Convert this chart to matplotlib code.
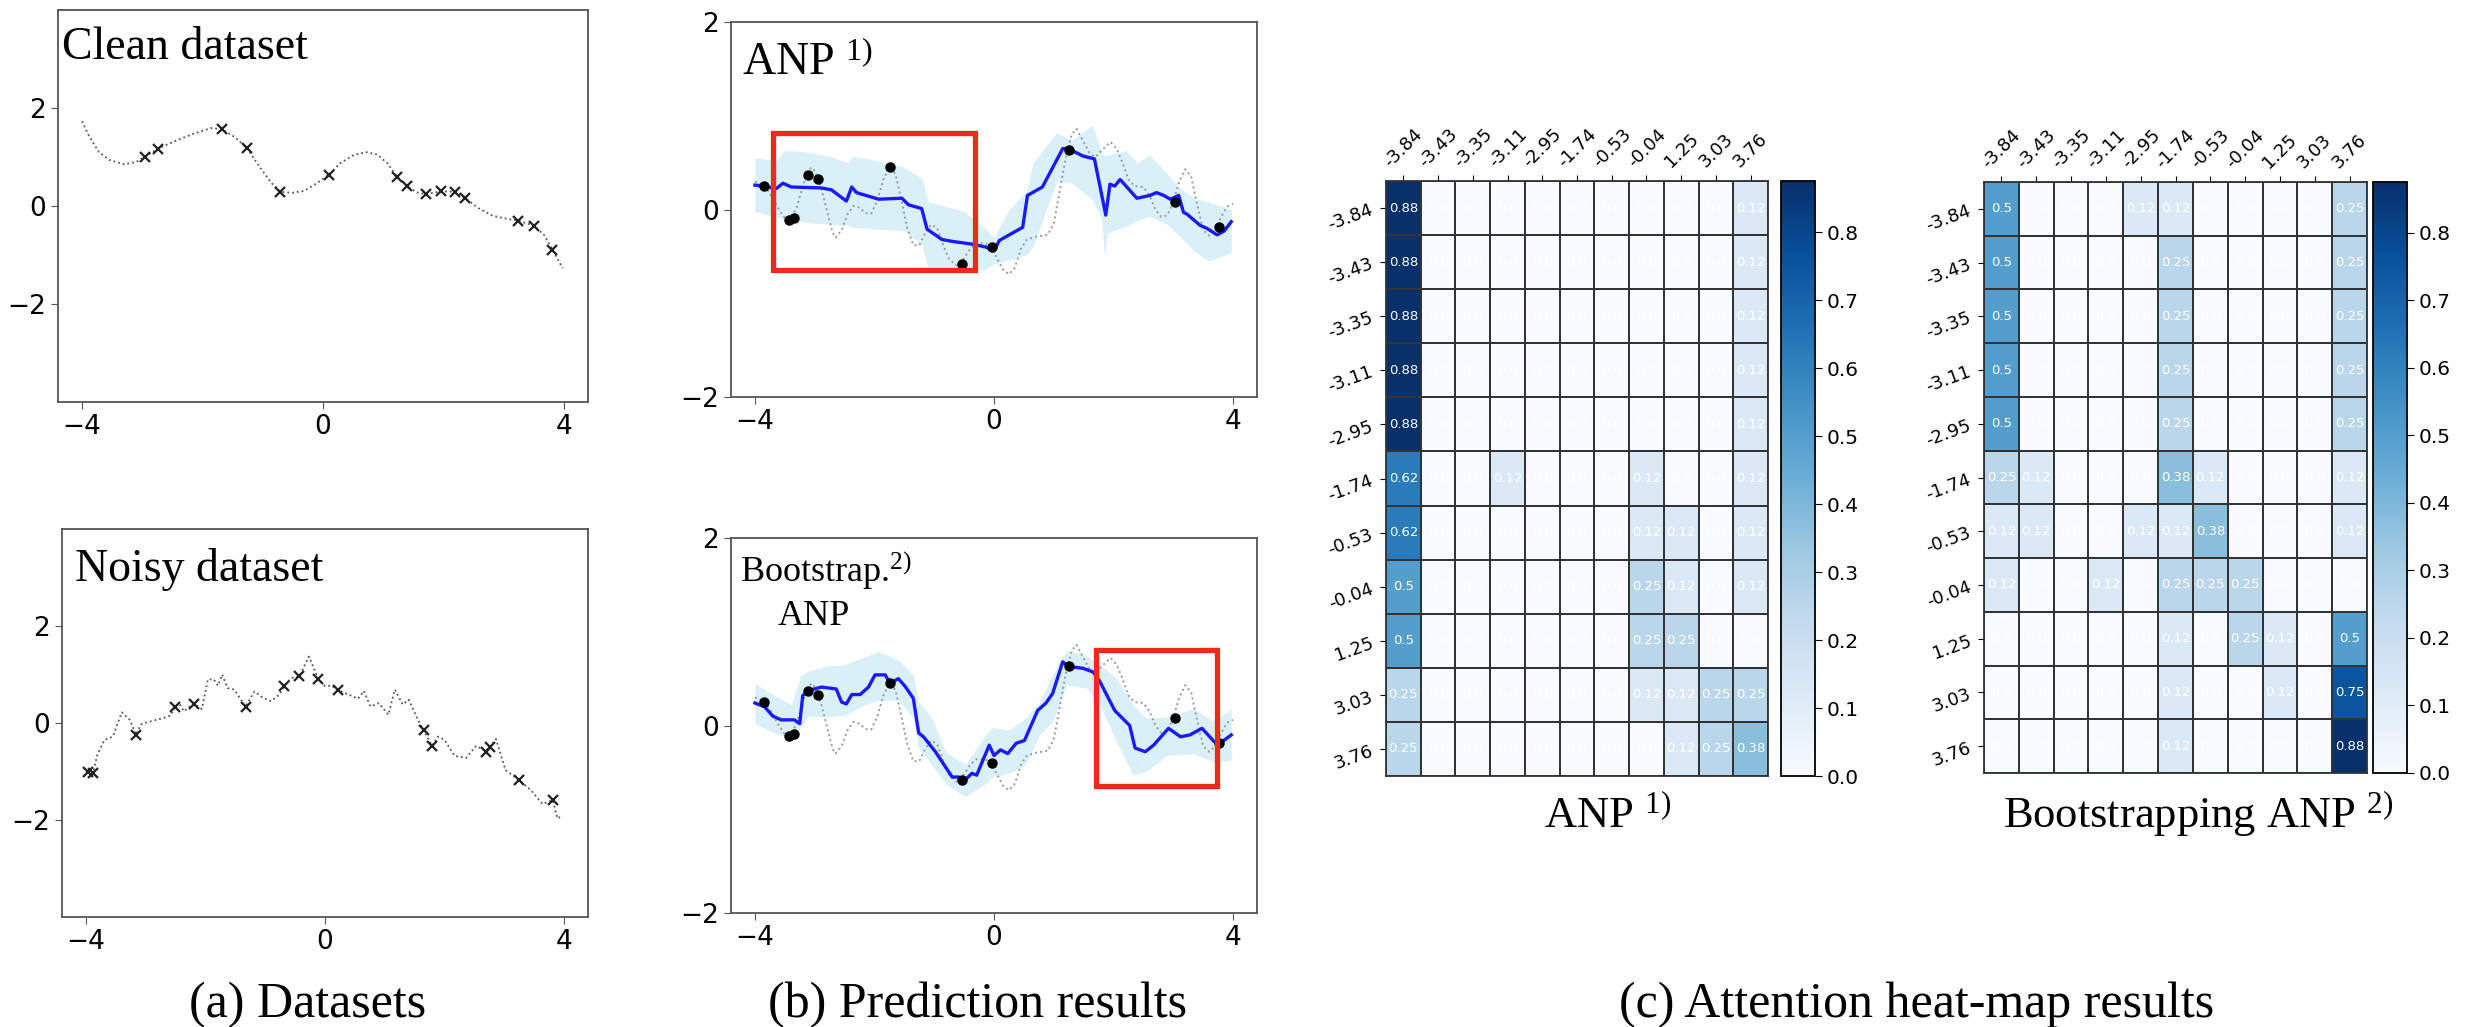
import numpy as np
import matplotlib.pyplot as plt
from matplotlib.patches import Rectangle

plt.rcParams['mathtext.fontset'] = 'custom'
plt.rcParams['mathtext.rm'] = 'Liberation Serif'
plt.rcParams['mathtext.it'] = 'Liberation Serif:italic'
SERIF = 'Liberation Serif'

# ---------------- (a) datasets ----------------
clean_x = [-4.0, -3.89, -3.72, -3.55, -3.30, -3.10, -2.96, -2.74, -2.43, -2.14,
           -1.86, -1.68, -1.47, -1.27, -1.07, -0.87, -0.71, -0.51, -0.31, -0.11,
           0.10, 0.28, 0.51, 0.71, 0.90, 1.07, 1.23, 1.39, 1.55, 1.71,
           1.96, 2.19, 2.35, 2.59, 2.82, 3.05, 3.24, 3.50, 3.67, 3.81, 3.98]
clean_y = [1.73, 1.44, 1.10, 0.94, 0.85, 0.90, 1.00, 1.17, 1.34, 1.48,
           1.59, 1.57, 1.41, 1.19, 0.83, 0.49, 0.29, 0.27, 0.31, 0.46,
           0.64, 0.87, 1.04, 1.10, 1.05, 0.87, 0.60, 0.41, 0.28, 0.24,
           0.30, 0.29, 0.17, -0.05, -0.20, -0.26, -0.30, -0.40, -0.59, -0.89, -1.27]
clean_ctx_x = [-2.96, -2.74, -1.68, -1.27, -0.71, 0.10, 1.23, 1.39, 1.71, 1.96, 2.19, 2.35, 3.24, 3.50, 3.81]
clean_ctx_y = [1.00, 1.17, 1.57, 1.19, 0.29, 0.64, 0.60, 0.41, 0.24, 0.30, 0.29, 0.17, -0.30, -0.40, -0.89]

noisy_x = [-3.99, -3.88, -3.81, -3.69, -3.55, -3.40, -3.27, -3.16, -3.08, -2.93,
           -2.71, -2.59, -2.51, -2.44, -2.36, -2.20, -2.06, -1.96, -1.86, -1.79,
           -1.72, -1.63, -1.52, -1.33, -1.18, -1.04, -0.90, -0.76, -0.68, -0.56,
           -0.43, -0.27, -0.11, 0.0, 0.11, 0.21, 0.39, 0.55, 0.65, 0.76,
           0.90, 1.06, 1.17, 1.30, 1.40, 1.55, 1.65, 1.79, 1.89, 2.00,
           2.17, 2.36, 2.53, 2.70, 2.76, 2.86, 3.02, 3.24, 3.44, 3.64,
           3.81, 3.89, 3.95]
noisy_y = [-1.00, -1.03, -0.66, -0.35, -0.28, 0.22, 0.07, -0.24, -0.03, 0.03,
           0.10, 0.15, 0.32, 0.41, 0.24, 0.40, 0.29, 0.90, 0.90, 0.77,
           1.00, 0.72, 0.69, 0.34, 0.65, 0.52, 0.45, 0.59, 0.77, 0.93,
           0.96, 1.37, 0.91, 0.76, 0.77, 0.68, 0.59, 0.50, 0.66, 0.34,
           0.41, 0.17, 0.69, 0.38, 0.48, 0.08, -0.15, -0.47, -0.28, -0.35,
           -0.68, -0.72, -0.47, -0.59, -0.50, -0.33, -0.97, -1.17, -1.38, -1.67,
           -1.59, -1.97, -1.92]
noisy_ctx_x = [-3.96, -3.88, -3.16, -2.51, -2.20, -1.33, -0.68, -0.43, -0.11, 0.21, 1.65, 1.79, 2.70, 2.76, 3.24, 3.81]
noisy_ctx_y = [-1.00, -1.03, -0.24, 0.32, 0.40, 0.34, 0.77, 0.96, 0.91, 0.68, -0.15, -0.47, -0.59, -0.50, -1.17, -1.59]

# ---------------- (b) predictions ----------------
true_x = [-4.0, -3.9, -3.8, -3.7, -3.6, -3.5, -3.4, -3.3, -3.2, -3.1,
          -3.05, -3.0, -2.9, -2.8, -2.7, -2.65, -2.55, -2.45, -2.35, -2.25,
          -2.15, -2.05, -1.95, -1.85, -1.75, -1.65, -1.55, -1.45, -1.35, -1.25,
          -1.15, -1.05, -0.95, -0.85, -0.75, -0.62, -0.5, -0.4, -0.3, -0.15,
          -0.05, 0.05, 0.15, 0.25, 0.35, 0.45, 0.55, 0.7, 0.9, 1.0,
          1.1, 1.2, 1.3, 1.38, 1.5, 1.6, 1.7, 1.8, 1.95, 2.05,
          2.15, 2.25, 2.35, 2.5, 2.6, 2.7, 2.8, 2.9, 3.0, 3.1,
          3.2, 3.3, 3.4, 3.5, 3.6, 3.7, 3.8, 3.9, 4.0]
true_y = [0.30, 0.27, 0.22, 0.12, 0.0, -0.09, -0.10, 0.02, 0.25, 0.42,
          0.45, 0.41, 0.25, 0.0, -0.25, -0.30, -0.22, -0.05, 0.04, 0.02,
          -0.04, -0.04, 0.10, 0.32, 0.45, 0.38, 0.10, -0.20, -0.38, -0.38,
          -0.25, -0.16, -0.20, -0.38, -0.53, -0.60, -0.52, -0.42, -0.36, -0.36,
          -0.40, -0.52, -0.64, -0.69, -0.62, -0.42, -0.32, -0.29, -0.27, -0.15,
          0.20, 0.55, 0.80, 0.86, 0.72, 0.60, 0.56, 0.63, 0.72, 0.65,
          0.50, 0.32, 0.25, 0.24, 0.15, 0.0, -0.08, -0.06, 0.08, 0.30,
          0.43, 0.35, 0.05, -0.22, -0.28, -0.22, -0.08, 0.03, 0.06]

ctx_x = [-3.84, -3.43, -3.35, -3.11, -2.95, -1.74, -0.53, -0.04, 1.25, 3.03, 3.76]
ctx_y = [0.25, -0.11, -0.09, 0.37, 0.33, 0.45, -0.58, -0.40, 0.63, 0.08, -0.19]

anp_x = [-4.0, -3.84, -3.65, -3.53, -3.39, -2.89, -2.72, -2.47, -2.38, -2.30,
         -1.93, -1.54, -1.43, -1.21, -1.12, -0.87, -0.70, -0.36, -0.14, 0.0,
         0.09, 0.48, 0.56, 0.81, 1.15, 1.24, 1.49, 1.68, 1.87, 1.94,
         2.02, 2.11, 2.39, 2.61, 2.72, 2.84, 2.95, 3.09, 3.17, 3.23,
         3.45, 3.56, 3.73, 3.85, 3.97]
anp_y = [0.26, 0.25, 0.22, 0.28, 0.24, 0.23, 0.21, 0.09, 0.24, 0.18,
         0.11, 0.12, 0.05, 0.01, -0.21, -0.32, -0.34, -0.37, -0.40, -0.44,
         -0.33, -0.19, 0.15, 0.24, 0.65, 0.65, 0.57, 0.54, -0.06, 0.27,
         0.25, 0.32, 0.12, 0.15, 0.18, 0.15, 0.11, 0.15, -0.03, -0.05,
         -0.17, -0.20, -0.27, -0.23, -0.13]
anp_band_x = [-4.0, -3.65, -3.5, -3.1, -2.7, -2.45, -2.35, -1.95, -1.5, -1.2,
              -1.1, -0.5, -0.15, 0.0, 0.25, 0.55, 0.65, 1.05, 1.3, 1.65,
              1.8, 1.85, 1.9, 2.2, 2.4, 2.6, 2.9, 3.1, 3.35, 3.6, 3.97]
anp_hi = [0.55, 0.52, 0.63, 0.61, 0.56, 0.50, 0.57, 0.52, 0.45, 0.33,
          0.08, -0.02, -0.20, -0.30, 0.0, 0.20, 0.50, 0.82, 0.74, 0.90,
          0.60, 0.58, 0.58, 0.63, 0.50, 0.58, 0.38, 0.24, 0.12, 0.08, 0.0]
anp_lo = [-0.02, -0.08, -0.10, -0.14, -0.16, -0.17, -0.19, -0.21, -0.23, -0.38,
          -0.64, -0.67, -0.64, -0.58, -0.54, -0.48, -0.40, 0.30, 0.28, 0.10,
          -0.10, -0.50, -0.25, -0.18, -0.12, -0.07, -0.16, -0.28, -0.45, -0.55, -0.46]

bs_x = [-4.0, -3.84, -3.70, -3.56, -3.34, -3.25, -3.20, -3.06, -2.89, -2.64,
        -2.55, -2.47, -2.38, -2.24, -2.10, -1.99, -1.82, -1.74, -1.60, -1.49,
        -1.35, -1.26, -1.18, -0.98, -0.70, -0.59, -0.48, -0.37, -0.29, -0.08,
        0.0, 0.11, 0.23, 0.37, 0.51, 0.73, 0.87, 0.98, 1.15, 1.24,
        1.49, 1.66, 1.77, 2.02, 2.27, 2.36, 2.53, 2.67, 2.92, 3.12,
        3.28, 3.48, 3.68, 3.76, 3.97]
bs_y = [0.24, 0.20, 0.10, 0.06, 0.06, 0.02, 0.32, 0.38, 0.41, 0.39,
        0.25, 0.23, 0.33, 0.33, 0.41, 0.54, 0.54, 0.45, 0.50, 0.42,
        0.29, -0.08, -0.12, -0.28, -0.55, -0.55, -0.58, -0.51, -0.53, -0.21,
        -0.32, -0.26, -0.30, -0.19, -0.16, 0.16, 0.24, 0.34, 0.68, 0.63,
        0.61, 0.57, 0.47, 0.16, 0.0, -0.24, -0.28, -0.21, -0.03, -0.12,
        -0.10, -0.03, -0.17, -0.20, -0.10]
bs_band_x = [-4.0, -3.67, -3.39, -3.23, -3.1, -2.83, -2.50, -2.16, -1.93, -1.60,
             -1.35, -1.26, -1.04, -0.81, -0.48, -0.14, -0.03, 0.25, 0.53, 0.76,
             0.98, 1.21, 1.54, 1.77, 2.05, 2.33, 2.55, 2.89, 3.34, 3.68, 3.97]
bs_hi = [0.45, 0.32, 0.22, 0.54, 0.58, 0.63, 0.65, 0.73, 0.79, 0.70,
         0.54, 0.25, 0.08, -0.28, -0.42, -0.10, -0.02, -0.05, 0.08, 0.25,
         0.54, 0.80, 0.75, 0.65, 0.50, 0.22, 0.08, 0.09, 0.18, 0.04, 0.18]
bs_lo = [0.02, -0.08, -0.14, -0.02, 0.10, 0.09, 0.11, 0.22, 0.27, 0.27,
         0.08, -0.24, -0.42, -0.62, -0.76, -0.62, -0.55, -0.51, -0.42, -0.10,
         0.04, 0.43, 0.40, 0.22, -0.17, -0.53, -0.49, -0.32, -0.30, -0.39, -0.37]

# highlighted regions: (x0, y0, x1, y1)
anp_box = (-3.70, -0.64, -0.31, 0.82)
bs_box = (1.71, -0.65, 3.73, 0.81)

# ---------------- (c) attention maps (in eighths) ----------------
heat_labels = ['-3.84', '-3.43', '-3.35', '-3.11', '-2.95', '-1.74', '-0.53', '-0.04', '1.25', '3.03', '3.76']
attn_anp = np.array([
    [7, 0, 0, 0, 0, 0, 0, 0, 0, 0, 1],
    [7, 0, 0, 0, 0, 0, 0, 0, 0, 0, 1],
    [7, 0, 0, 0, 0, 0, 0, 0, 0, 0, 1],
    [7, 0, 0, 0, 0, 0, 0, 0, 0, 0, 1],
    [7, 0, 0, 0, 0, 0, 0, 0, 0, 0, 1],
    [5, 0, 0, 1, 0, 0, 0, 1, 0, 0, 1],
    [5, 0, 0, 0, 0, 0, 0, 1, 1, 0, 1],
    [4, 0, 0, 0, 0, 0, 0, 2, 1, 0, 1],
    [4, 0, 0, 0, 0, 0, 0, 2, 2, 0, 0],
    [2, 0, 0, 0, 0, 0, 0, 1, 1, 2, 2],
    [2, 0, 0, 0, 0, 0, 0, 0, 1, 2, 3],
]) / 8
attn_bs = np.array([
    [4, 0, 0, 0, 1, 1, 0, 0, 0, 0, 2],
    [4, 0, 0, 0, 0, 2, 0, 0, 0, 0, 2],
    [4, 0, 0, 0, 0, 2, 0, 0, 0, 0, 2],
    [4, 0, 0, 0, 0, 2, 0, 0, 0, 0, 2],
    [4, 0, 0, 0, 0, 2, 0, 0, 0, 0, 2],
    [2, 1, 0, 0, 0, 3, 1, 0, 0, 0, 1],
    [1, 1, 0, 0, 1, 1, 3, 0, 0, 0, 1],
    [1, 0, 0, 1, 0, 2, 2, 2, 0, 0, 0],
    [0, 0, 0, 0, 0, 1, 0, 2, 1, 0, 4],
    [0, 0, 0, 0, 0, 1, 0, 0, 1, 0, 6],
    [0, 0, 0, 0, 0, 1, 0, 0, 0, 0, 7],
]) / 8

W, H = 2473, 1027
fig = plt.figure(figsize=(W / 100, H / 100), dpi=100)


def rect(l, t, r, b):
    # pixel box -> figure fraction
    return [l / W, 1 - b / H, (r - l) / W, (b - t) / H]


def style_line_ax(ax, ylim, yt):
    ax.set_xlim(-4.4, 4.4)
    ax.set_ylim(*ylim)
    ax.set_xticks([-4, 0, 4])
    ax.set_yticks(yt)
    ax.tick_params(labelsize=19, length=5, color='#555')
    for s in ax.spines.values():
        s.set_color('#555')
        s.set_linewidth(1.3)


# (a)
ax = fig.add_axes(rect(58, 10, 588, 402))
ax.plot(clean_x, clean_y, ls=':', color='#555', lw=1.3)
ax.plot(clean_ctx_x, clean_ctx_y, 'x', color='#222', ms=7, mew=1.6)
style_line_ax(ax, (-4, 4), [-2, 0, 2])
ax.text(0.008, 0.875, 'Clean dataset', transform=ax.transAxes, family=SERIF, fontsize=33)

ax = fig.add_axes(rect(62, 529, 588, 917))
ax.plot(noisy_x, noisy_y, ls=':', color='#555', lw=1.3)
ax.plot(noisy_ctx_x, noisy_ctx_y, 'x', color='#222', ms=7, mew=1.6)
style_line_ax(ax, (-4, 4), [-2, 0, 2])
ax.text(0.025, 0.866, 'Noisy dataset', transform=ax.transAxes, family=SERIF, fontsize=33)


# (b)
def pred_panel(box, mx, my, bx, lo, hi, red):
    ax = fig.add_axes(box)
    ax.fill_between(bx, lo, hi, color='#87ceeb', alpha=0.3, lw=0)
    ax.plot(true_x, true_y, ls=':', color='#999', lw=1.4)
    ax.plot(mx, my, color='#1a1aff', lw=2.4)
    ax.plot(ctx_x, ctx_y, 'o', color='k', ms=6.5, zorder=4)
    ax.add_patch(Rectangle((red[0], red[1]), red[2] - red[0], red[3] - red[1],
                           fill=False, ec='#ee2a1c', lw=3.8, zorder=5))
    style_line_ax(ax, (-2, 2), [-2, 0, 2])
    return ax


ax = pred_panel(rect(731, 22, 1257, 397), anp_x, anp_y, anp_band_x, anp_lo, anp_hi, anp_box)
ax.text(0.021, 0.859, r'ANP $^{\mathrm{1)}}$', transform=ax.transAxes, family=SERIF, fontsize=33)

ax = pred_panel(rect(731, 538, 1257, 913), bs_x, bs_y, bs_band_x, bs_lo, bs_hi, bs_box)
ax.text(0.017, 0.884, r'Bootstrap.$^{\mathrm{2)}}$', transform=ax.transAxes, family=SERIF, fontsize=26)
ax.text(0.089, 0.769, 'ANP', transform=ax.transAxes, family=SERIF, fontsize=26)


# (c)
def heat_panel(box, cbox, mat):
    ax = fig.add_axes(box)
    cax = fig.add_axes(cbox)
    mesh = ax.pcolormesh(mat, cmap='Blues', vmin=0, vmax=mat.max(), edgecolors='#333', linewidth=1.1)
    ax.set_xlim(0, 11)
    ax.set_ylim(11, 0)
    ax.xaxis.tick_top()
    pos = np.arange(len(heat_labels)) + 0.5
    ax.set_xticks(pos, heat_labels, rotation=45, fontsize=13)
    ax.set_yticks(pos, heat_labels, rotation=20, fontsize=13)
    ax.tick_params(length=4)
    for s in ax.spines.values():
        s.set_color('#333')
        s.set_linewidth(1.3)
    for i in range(mat.shape[0]):
        for j in range(mat.shape[1]):
            ax.text(j + 0.5, i + 0.5, str(round(mat[i, j], 2)), ha='center', va='center',
                    color='w', fontsize=9.5)
    cb = fig.colorbar(mesh, cax=cax, ticks=np.arange(0, 0.81, 0.1))
    cb.ax.tick_params(labelsize=14.5, length=5)
    cb.outline.set_linewidth(1.3)
    return ax


heat_panel(rect(1386, 181, 1768, 776), rect(1781, 181, 1815, 776), attn_anp)
heat_panel(rect(1984, 182, 2367, 773), rect(2373, 182, 2407, 773), attn_bs)

fig.text(1544 / W, 1 - 828 / H, r'ANP $^{\mathrm{1)}}$', family=SERIF, fontsize=32, va='baseline')
fig.text(2003 / W, 1 - 828 / H, r'Bootstrapping ANP $^{\mathrm{2)}}$', family=SERIF, fontsize=32, va='baseline')

# captions
fig.text(308 / W, 1 - 1017 / H, '(a) Datasets', family=SERIF, fontsize=36, ha='center', va='baseline')
fig.text(977 / W, 1 - 1017 / H, '(b) Prediction results', family=SERIF, fontsize=36, ha='center', va='baseline')
fig.text(1917 / W, 1 - 1017 / H, '(c) Attention heat-map results', family=SERIF, fontsize=36, ha='center', va='baseline')

fig.savefig('out.png', dpi=100)
